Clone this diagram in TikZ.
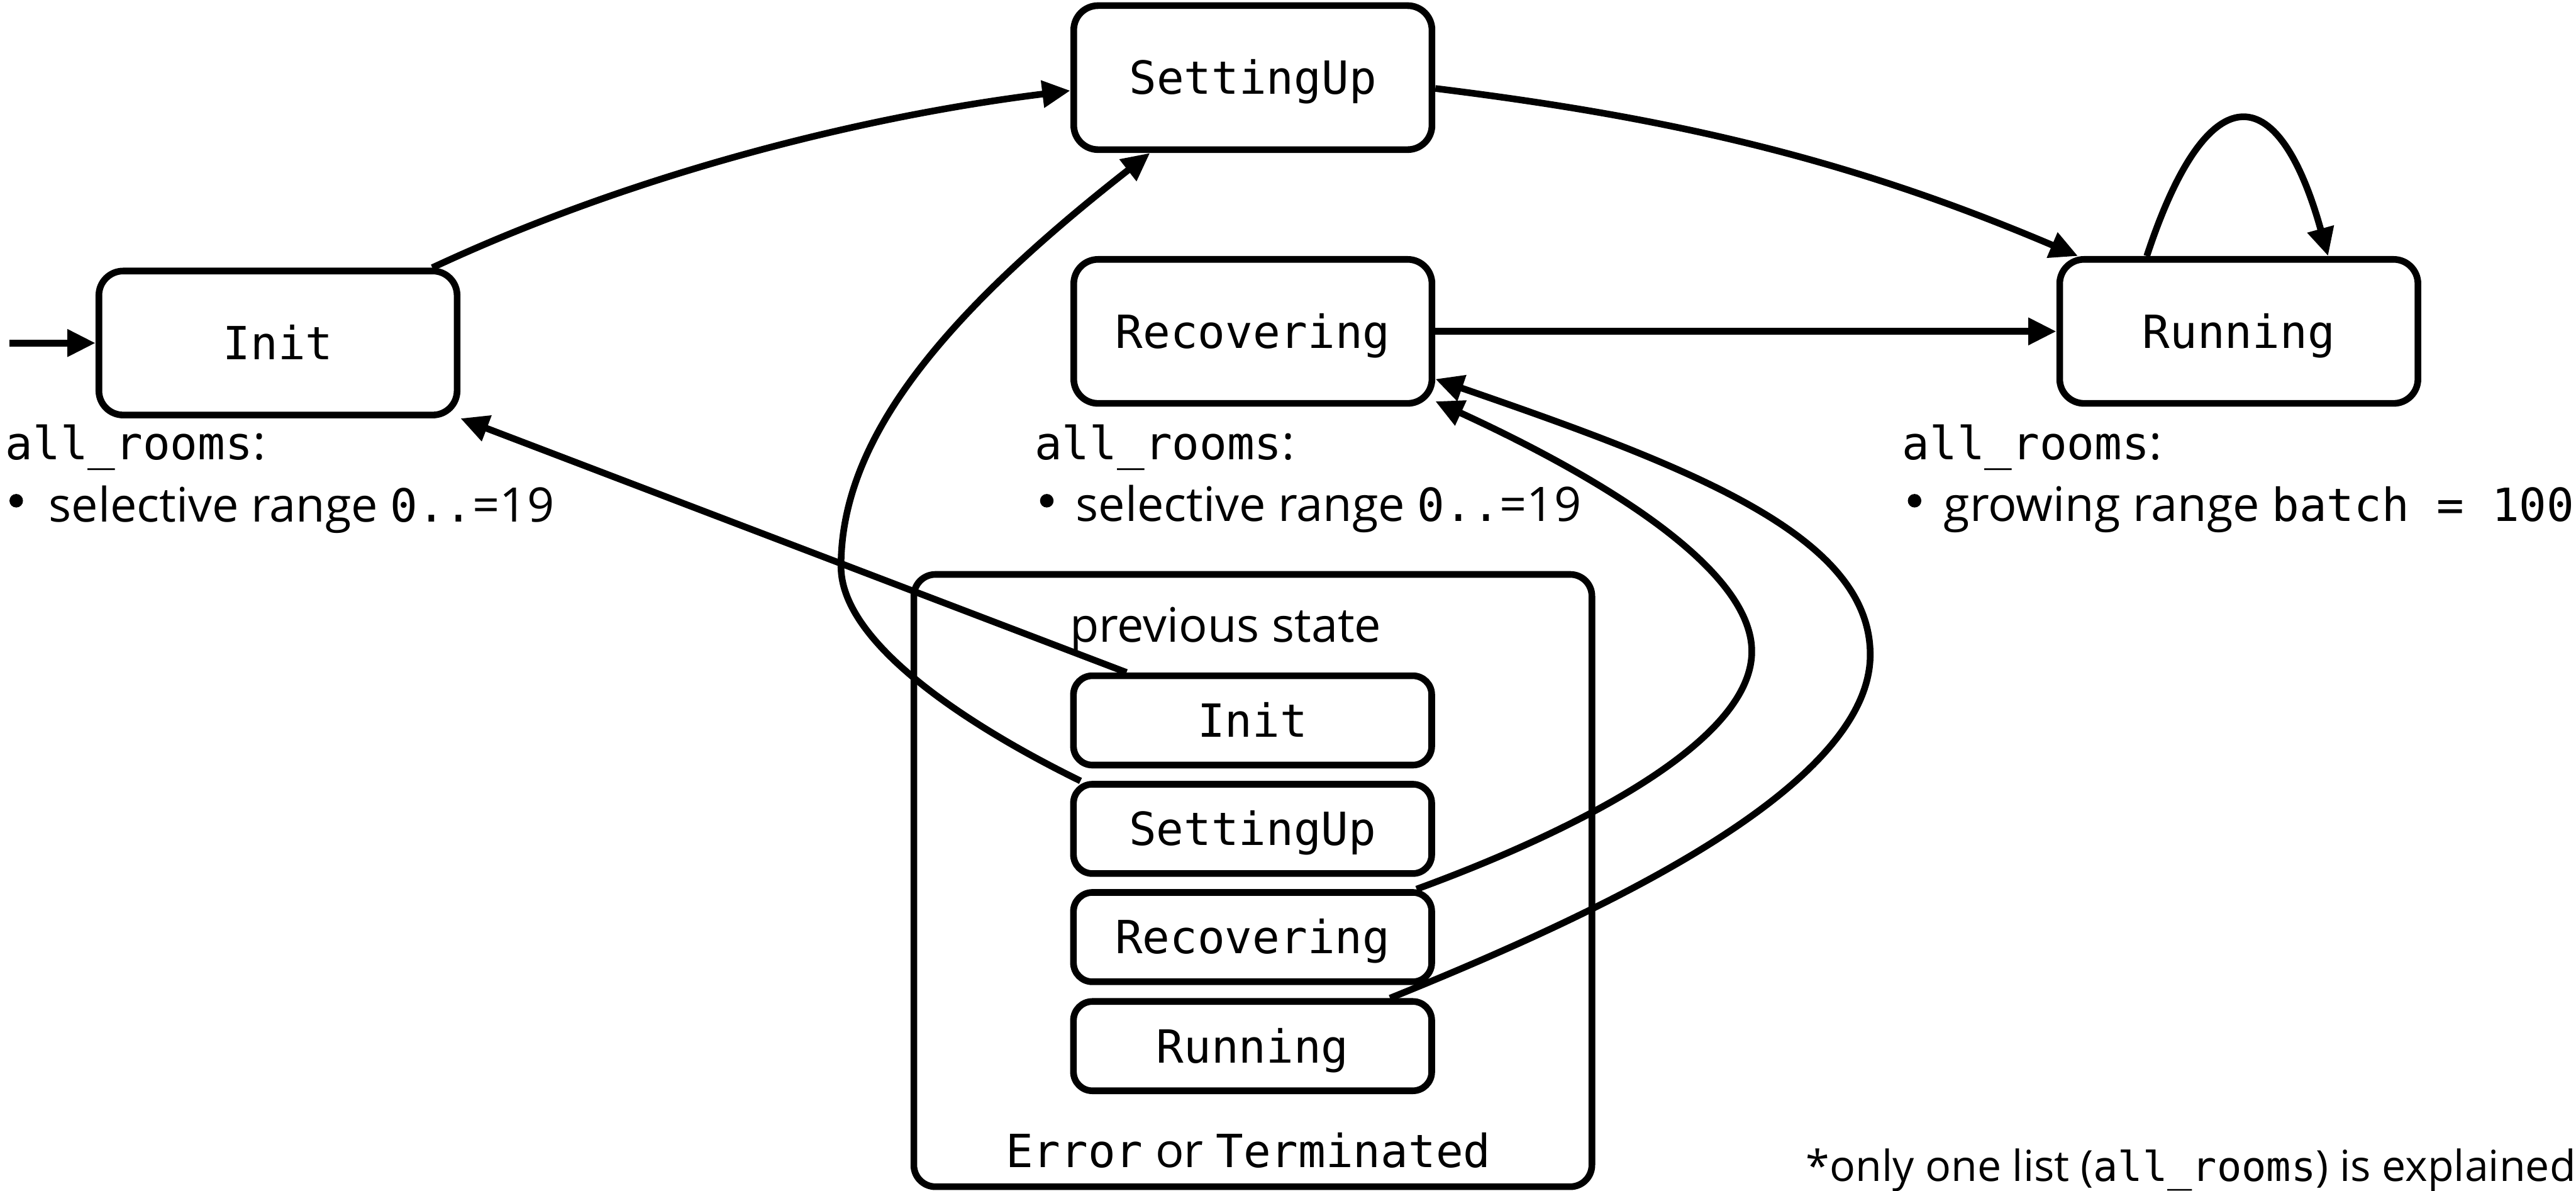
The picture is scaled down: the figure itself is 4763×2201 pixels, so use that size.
\documentclass[tikz,border=0pt]{standalone}
\usepackage{fontspec}
\setmainfont{Open Sans}
\setmonofont[Scale=0.96]{DejaVu Sans Mono}
\usetikzlibrary{arrows.meta,calc}

\begin{document}
\begin{tikzpicture}[x=0.01cm,y=-0.01cm,
  line width=3.5pt, line join=round,
  every node/.style={font=\fontsize{25}{30}\selectfont},
  state/.style={draw, rounded corners=0.45cm, minimum width=6.62cm,
    minimum height=2.66cm, inner sep=0pt, text height=17.5pt, text depth=0pt,
    font=\fontsize{25}{30}\selectfont\ttfamily},
  prev/.style={draw, rounded corners=0.35cm, minimum width=6.62cm,
    minimum height=1.65cm, inner sep=0pt, text height=17.5pt, text depth=0pt,
    font=\fontsize{25}{30}\selectfont\ttfamily},
  frame/.style={draw, rounded corners=0.4cm, minimum width=12.53cm,
    minimum height=11.31cm, inner sep=0pt},
  arr/.style={-{Triangle[length=0.52cm,width=0.48cm]}},
  lbl/.style={anchor=base west, inner sep=0pt},
  caption/.style={anchor=base, inner sep=0pt},
  bullet/.style={circle, fill, draw=none, inner sep=0pt, minimum size=0.25cm}
]
\useasboundingbox (0,0) rectangle (4763,2201);

% main states
\node[state] (init)  at (514,634)      {Init};
\node[state] (setup) at (2316.5,143.5) {SettingUp};
\node[state] (rec)   at (2316.5,612.5) {Recovering};
\node[state] (run)   at (4139.5,612.5) {Running};

% error / terminated state with its remembered previous state
\node[frame] (err) at (2316.5,1627.5) {};
\node[prev] (einit)  at (2316,1331.5) {Init};
\node[prev] (esetup) at (2316,1532)   {SettingUp};
\node[prev] (erec)   at (2316,1732)   {Recovering};
\node[prev] (erun)   at (2316,1933.5) {Running};
\node[caption] (prevlbl) at (2266,1187) {previous state};
\node[caption] (errlbl)  at (2308,2158) {\texttt{Error} or \texttt{Terminated}};

% list notes
\node[lbl] (notea)  at (4,850)    {\texttt{all\_rooms}:};
\node[bullet] (bula) at (30,925.5) {};
\node[lbl] (notea2) at (84,964)   {selective range \texttt{0..}=19};
\node[lbl] (noteb)  at (1907,850) {\texttt{all\_rooms}:};
\node[bullet] (bulb) at (1935.5,925.5) {};
\node[lbl] (noteb2) at (1983,963) {selective range \texttt{0..}=19};
\node[lbl] (notec)  at (3511,850) {\texttt{all\_rooms}:};
\node[bullet] (bulc) at (3540,925.5) {};
\node[lbl] (notec2) at (3588,963) {growing range \texttt{batch = 100}};
\node[lbl, font=\fontsize{22.5}{27}\selectfont] (foot) at (3333,2183)
  {*only one list (\texttt{all\_rooms}) is explained};

% transitions
\coordinate (entry) at (18,634);
\draw[arr] (entry) -- (init.west);

\draw[arr] ([xshift=-0.52cm]init.north east)
  .. controls +(362,-169) and ($(setup.west)+(-397,73)$) .. ([yshift=-0.24cm]setup.west);

\draw[arr] ([yshift=-0.2cm]setup.east)
  .. controls +(447,55) and ($(run.north west)+(-374,-176)$) .. ([xshift=0.4cm]run.north west);

\draw[arr] ([xshift=-1.7cm]run.north)
  .. controls +(110,-335) and ($(run.north)+(72,-335)$) .. ([xshift=1.65cm]run.north);

\draw[arr] (rec) -- (run);

\draw[arr] ([xshift=-2.33cm]einit.north) -- (init.south east);

\coordinate (bendL) at (1555,1047);
\draw[arr] ([xshift=-3.18cm]esetup.north)
  .. controls +(-180,-88) and ($(bendL)+(0,150)$) .. (bendL)
  .. controls +(0,-230) and ($(setup.south)+(-584,308)$) .. ([xshift=-1.9cm]setup.south);

\coordinate (bendA) at (3239,1204);
\draw[arr] ([xshift=3.03cm]erec.north)
  .. controls +(282,-103) and ($(bendA)+(0,170)$) .. (bendA)
  .. controls +(0,-150) and ($(rec.south east)+(318,136)$) .. ([yshift=0.1cm]rec.south east);

\coordinate (bendB) at (3458,1210);
\draw[arr] ([xshift=2.54cm]erun.north)
  .. controls +(371,-150) and ($(bendB)+(0,250)$) .. (bendB)
  .. controls +(0,-220) and ($(rec.east)+(473,251)$) .. ([yshift=-0.88cm]rec.east);
\end{tikzpicture}
\end{document}
